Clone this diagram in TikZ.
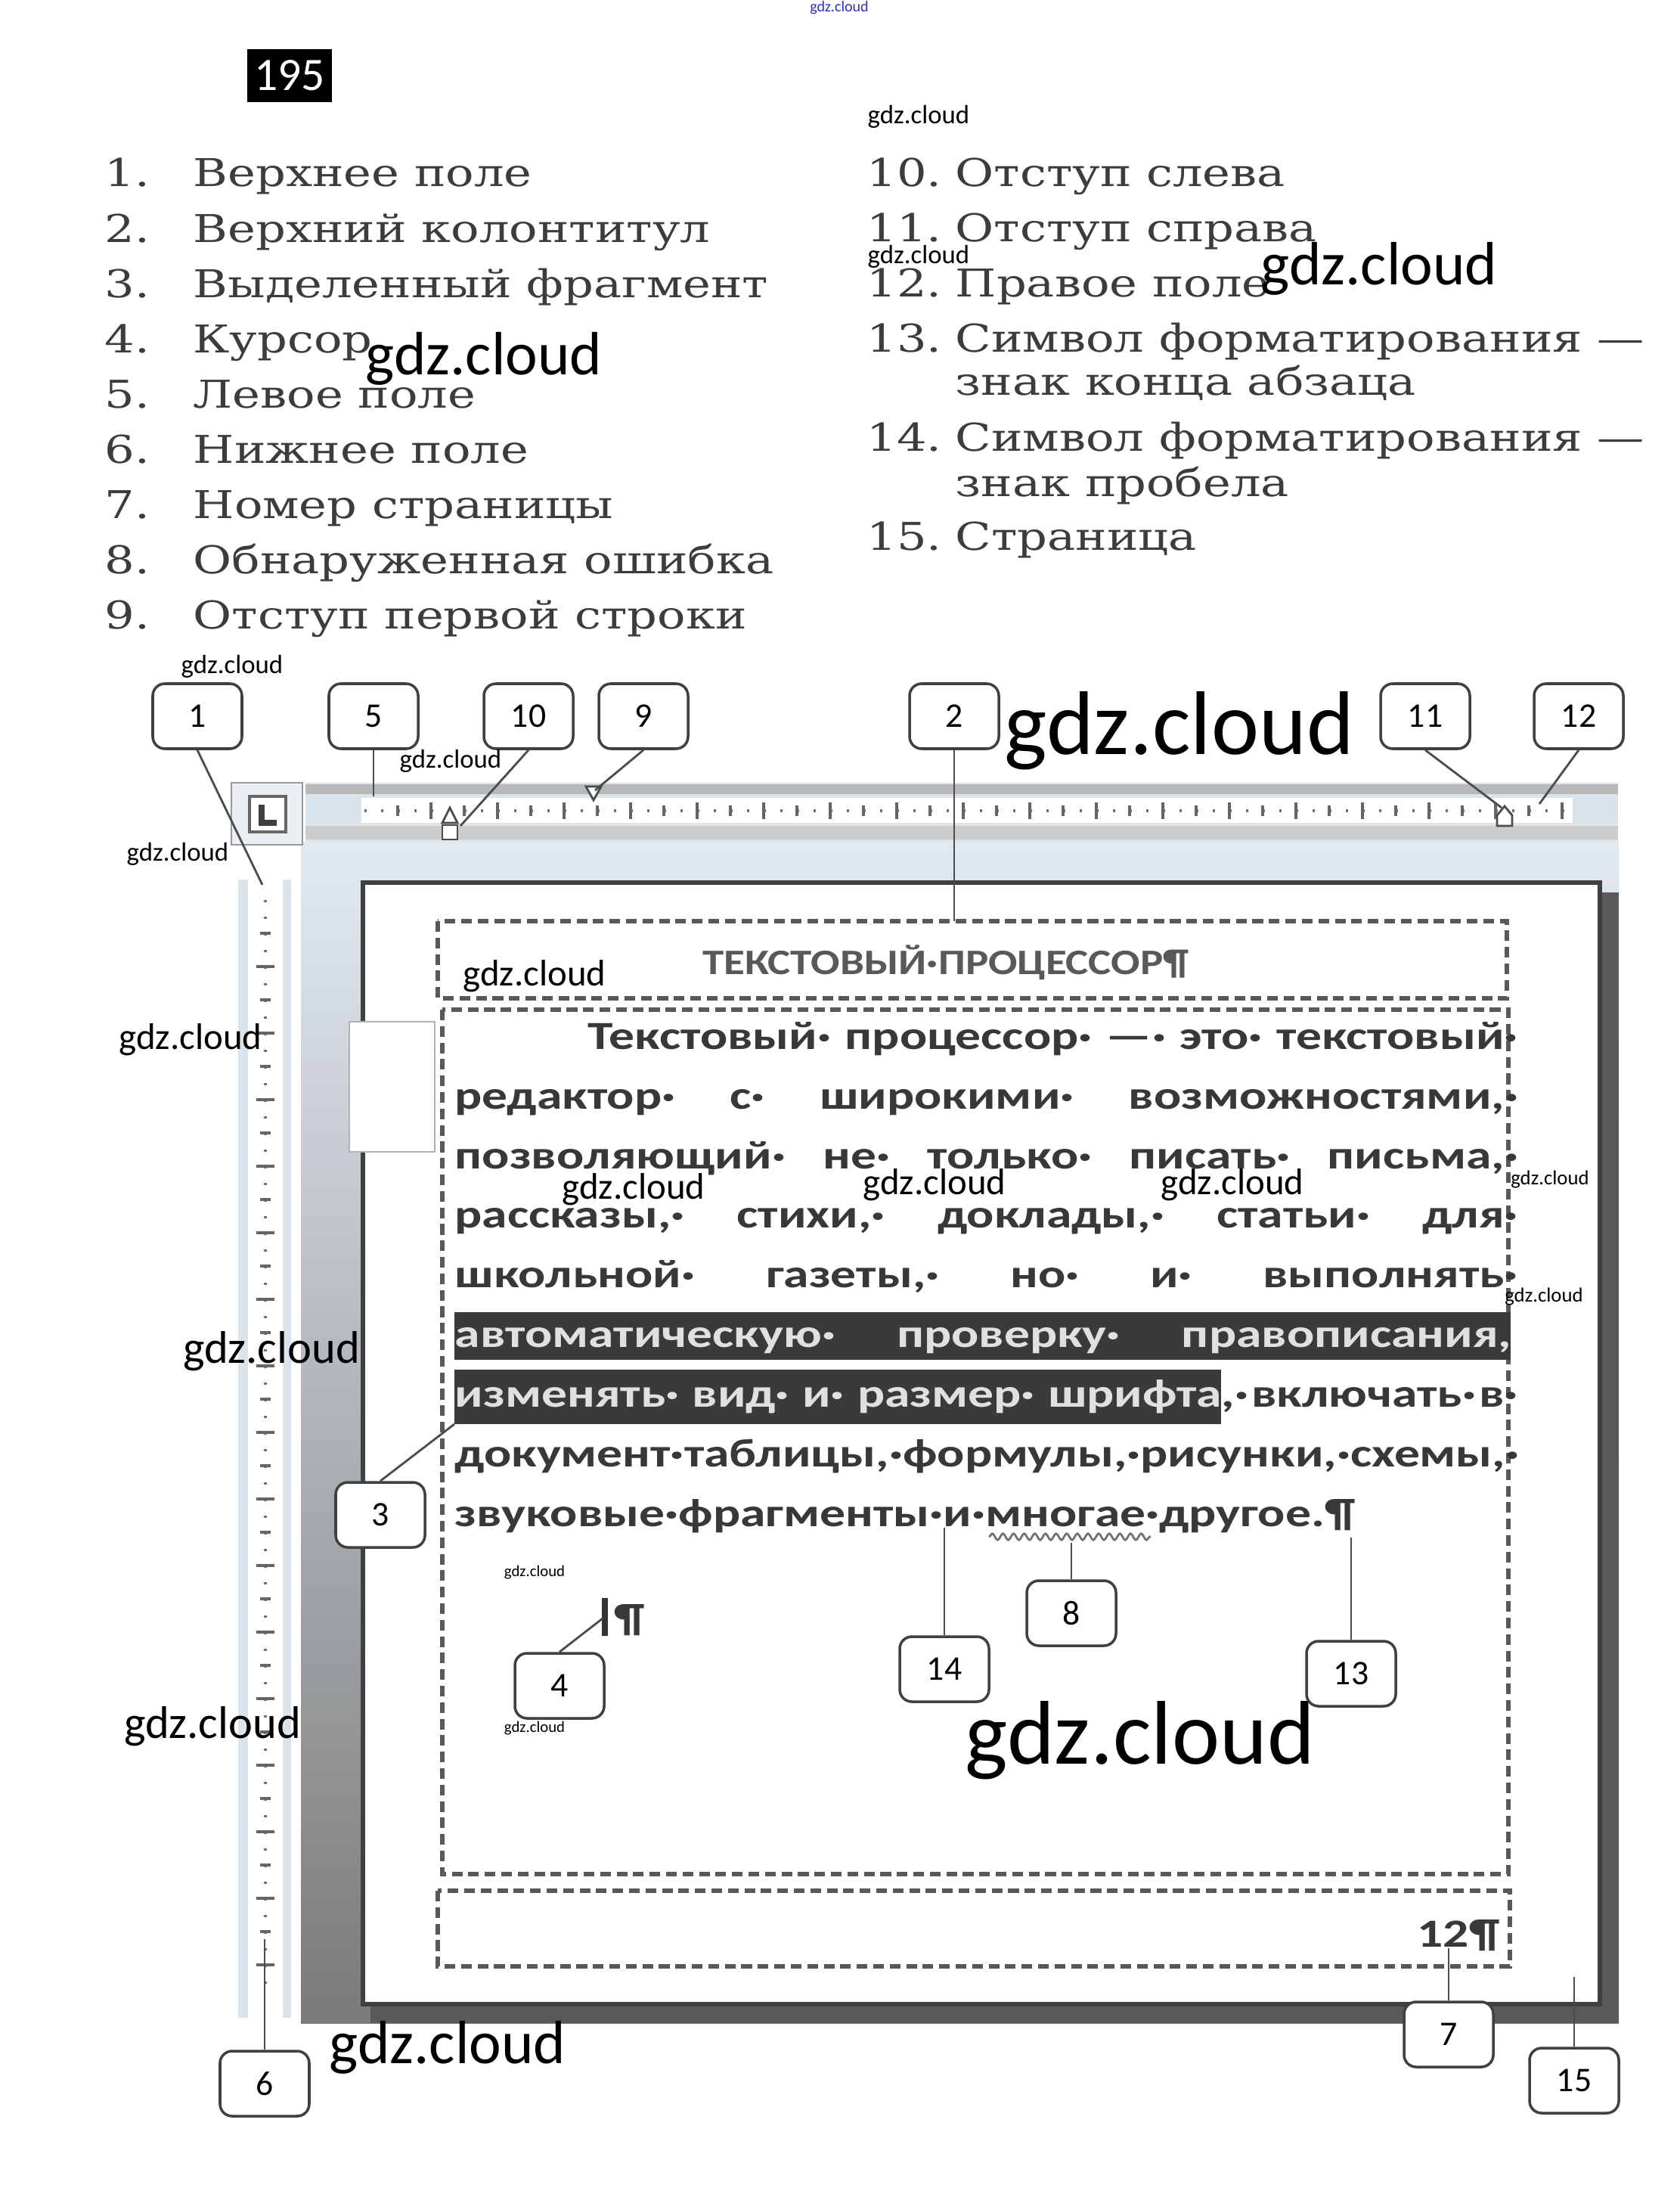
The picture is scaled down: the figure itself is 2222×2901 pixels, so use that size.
\documentclass[tikz,border=0pt]{standalone}
\usepackage{fontspec}
\usepackage{graphicx}
\setmainfont{DejaVu Serif}
\newfontfamily\calfont{Carlito}
\usetikzlibrary{positioning, decorations.pathmorphing}
\newlength\pxu
\setlength\pxu{0.01cm}
\newcommand\setfs[1]{\fontsize{#1}{#1}\selectfont}
% the scanned text is stretched sideways
\newcommand\wide[2][1.28]{\scalebox{#1}[1]{#2}}
\newcommand\jline[2]{\wide{\hbox to \dimexpr#1\pxu*25/32\relax{#2}}}
\definecolor{inkgray}{HTML}{3C3C3C}
\definecolor{rulerblue}{HTML}{DCE4EB}
\definecolor{wsblue}{HTML}{E2EAF1}
\definecolor{wsmid}{HTML}{A9AEB3}
\definecolor{wsgray}{HTML}{7A7A7A}
\definecolor{markgray}{HTML}{3A3A3A}
\definecolor{wmblue}{HTML}{3030C0}

\begin{document}
\begin{tikzpicture}[x=0.01cm, y=-0.01cm,
  callout/.style={draw=black!75, line width=1pt, rounded corners=16\pxu, fill=white,
                  minimum width=118\pxu, minimum height=86\pxu, inner sep=0pt,
                  font=\calfont\setfs{13}},
  lead/.style={draw=black!70, line width=0.8pt},
  margin box/.style={draw=black!65, line width=1.5pt, dash pattern=on 4pt off 2.2pt},
  listitem/.style={anchor=base west, inner sep=0pt, text=inkgray, font=\setfs{14.4}},
  bodyline/.style={anchor=base west, inner sep=0pt, text=black!78,
                   font=\calfont\bfseries\setfs{15}},
  hlline/.style={bodyline, text=white!88!black},
  tick/.style={draw=black!60, line width=1pt},
  marker/.style={fill=white, draw=black!70, line width=0.8pt},
  wm/.style={inner sep=0pt, font=\calfont\setfs{#1}}
]
\useasboundingbox (0,0) rectangle (2222,2901);
\fill[white] (0,0) rectangle (2222,2901);

% exercise number
\node[wm=5.7, text=wmblue] (wmtop) at (1110,10) {gdz.cloud};
\node[fill=black, text=white, font=\calfont\setfs{17.5}, minimum width=112\pxu,
      minimum height=70\pxu, inner sep=0pt] (exno) at (383,100) {195};

% legend
\foreach \n/\t [count=\i from 0] in {1/Верхнее поле, 2/Верхний колонтитул,
    3/Выделенный фрагмент, 4/Курсор, 5/Левое поле, 6/Нижнее поле,
    7/Номер страницы, 8/Обнаруженная ошибка, 9/Отступ первой строки}
{
  \node[listitem] (num\n) at (138,{247+73.1*\i}) {\wide[1.23]{\n.}};
  \node[listitem] (item\n) at (255,{247+73.1*\i}) {\wide[1.23]{\t}};
}
\foreach \n/\t/\yy in {10/Отступ слева/247, 11/Отступ справа/320, 12/Правое поле/393,
    13/Символ форматирования —/466, 14/Символ форматирования —/597, 15/Страница/728}
{
  \node[listitem] (num\n) at (1146,\yy) {\wide[1.23]{\n.}};
  \node[listitem] (item\n) at (1263,\yy) {\wide[1.23]{\t}};
}
\node[listitem] (item13b) at (1263,523) {\wide[1.23]{знак конца абзаца}};
\node[listitem] (item14b) at (1263,657) {\wide[1.23]{знак пробела}};

% workspace and rulers
\shade[top color=wsblue, middle color=wsmid, bottom color=wsgray] (398,1113) rectangle (2141,2675);
\fill[rulerblue] (315,1163) rectangle (385,2668);
\fill[white] (328,1163) rectangle (374,2668);
\fill[rulerblue] (404,1035) rectangle (2140,1113);
\fill[black!28] (404,1037) rectangle (2140,1050);
\fill[black!20] (404,1092) rectangle (2140,1110);
\fill[white] (478,1055) rectangle (2080,1088);
\filldraw[fill=rulerblue!60, draw=black!40] (306,1035) rectangle (400,1117);
\filldraw[fill=white, draw=black!60, line width=1pt] (330,1053) rectangle (378,1100);
\draw[line width=2.5pt, black!75] (346,1064) -- (346,1088) -- (366,1088);

\foreach \tx in {482,504,...,2078} \fill[black!55] (\tx,1070) rectangle +(3,4);
\foreach \tx in {526,614,...,2078} \draw[tick] (\tx,1065) -- (\tx,1079);
\foreach \tx in {570,658,...,2078} \draw[tick] (\tx,1061) -- (\tx,1083);
\foreach \ty in {1190,1212,...,2640} \fill[black!55] (349,\ty) rectangle +(4,3);
\foreach \ty in {1234,1322,...,2640} \draw[tick] (344,\ty) -- (358,\ty);
\foreach \ty in {1278,1366,...,2640} \draw[tick] (339,\ty) -- (363,\ty);

% indent markers
\filldraw[marker] (585,1088) -- (595,1068) -- (605,1088) -- cycle;
\filldraw[marker] (585,1091) rectangle (605,1110);
\filldraw[marker] (775,1040) -- (795,1040) -- (785,1058) -- cycle;
\filldraw[marker] (1980,1092) -- (1980,1078) -- (1990,1066) -- (2000,1078) -- (2000,1092) -- cycle;

% page
\fill[black!65] (490,1180) rectangle (2141,2675);
\filldraw[fill=white, draw=black!75, line width=1.5pt] (480,1167) rectangle (2116,2650);
\filldraw[fill=white, draw=black!30, line width=0.5pt] (462,1351) rectangle (575,1523);

\draw[margin box] (579,1218) rectangle (1993,1320);
\draw[margin box] (585,1335) rectangle (1995,2478);
\draw[margin box] (579,2500) rectangle (1997,2600);

% page text
\node[font=\calfont\bfseries\setfs{13.5}, text=black!65, anchor=base, inner sep=0pt]
  (hdr) at (1251,1288) {\wide[1.2]{ТЕКСТОВЫЙ·ПРОЦЕССОР¶}};

\fill[markgray] (601,1735) rectangle (1998,1798);
\fill[markgray] (601,1811) rectangle (1615,1883);

\node[bodyline] (ln1) at (777,1387) {\jline{1230}{Текстовый·\hfill процессор·\hfill —·\hfill это·\hfill текстовый·}};
\node[bodyline] (ln2) at (601,1466) {\jline{1406}{редактор·\hfill с·\hfill широкими·\hfill возможностями,·}};
\node[bodyline] (ln3) at (601,1545) {\jline{1406}{позволяющий·\hfill не·\hfill только·\hfill писать·\hfill письма,·}};
\node[bodyline] (ln4) at (601,1623) {\jline{1406}{рассказы,·\hfill стихи,·\hfill доклады,·\hfill статьи·\hfill для·}};
\node[bodyline] (ln5) at (601,1702) {\jline{1406}{школьной·\hfill газеты,·\hfill но·\hfill и·\hfill выполнять·}};
\node[hlline] (ln6) at (601,1781) {\jline{1397}{автоматическую·\hfill проверку·\hfill правописания,}};
\node[hlline] (ln7a) at (601,1860) {\jline{1014}{изменять·\hfill вид·\hfill и·\hfill размер·\hfill шрифта}};
\node[bodyline] (ln7b) at (1615,1860) {\jline{392}{,·\hfill включать·\hfill в·}};
\node[bodyline] (ln8) at (601,1939) {\jline{1406}{документ·\hfil таблицы,·\hfil формулы,·\hfil рисунки,·\hfil схемы,·}};
\node[bodyline] (ln9) at (601,2018) {\wide{звуковые·фрагменты·и·многае·другое.¶}};
\draw[decorate, decoration={snake, amplitude=1.2pt, segment length=4pt}, black!55, line width=0.8pt]
  (1308,2032) -- (1522,2032);

\draw[line width=2pt, black!80] (800,2113) -- (800,2163);
\node[bodyline, anchor=base west] (pil) at (812,2157) {\wide{¶}};
\node[bodyline, anchor=base east] (pgno) at (1984,2574) {\wide{12¶}};

% callouts
\node[callout] (b1) at (261,947) {1};
\node[callout] (b5) at (494,947) {5};
\node[callout] (b10) at (699,947) {10};
\node[callout] (b9) at (851,947) {9};
\node[callout] (b2) at (1262,947) {2};
\node[callout] (b11) at (1885,947) {11};
\node[callout] (b12) at (2088,947) {12};
\node[callout] (b3) at (503,2003) {3};
\node[callout] (b4) at (740,2229) {4};
\node[callout] (b8) at (1417,2133) {8};
\node[callout] (b14) at (1249,2207) {14};
\node[callout] (b13) at (1787,2213) {13};
\node[callout] (b6) at (350,2755) {6};
\node[callout] (b7) at (1916,2690) {7};
\node[callout] (b15) at (2082,2751) {15};

\coordinate (t1) at (347,1170);
\coordinate (t5) at (494,1053);
\coordinate (t10) at (609,1092);
\coordinate (t9) at (787,1045);
\coordinate (t2) at (1262,1218);
\coordinate (t11) at (1986,1068);
\coordinate (t12) at (2036,1063);
\coordinate (t3) at (601,1883);
\coordinate (t4) at (797,2140);
\coordinate (t14) at (1249,2020);
\coordinate (t8) at (1417,2040);
\coordinate (t13) at (1787,2033);
\coordinate (t6) at (350,2564);
\coordinate (t7) at (1916,2576);
\coordinate (t15) at (2082,2614);

\foreach \b in {1,5,10,9,2,11,12} \draw[lead] (b\b.south) -- (t\b);
\foreach \b in {3,4,14,8,13,6,7,15} \draw[lead] (b\b.north) -- (t\b);

% watermarks
\foreach \wx/\wy/\ws [count=\wi] in {1215/154/9.9, 1215/339/9.9, 1824/355/23,
    640/474/23, 307/881/9.9, 1560/966/34, 596/1006/9.9, 235/1129/9.9,
    707/1291/13.9, 252/1375/13.9, 838/1573/13.9, 1236/1567/13.9, 1630/1567/13.9,
    2050/1560/7.6, 2042/1715/7.6, 359/1787/17.2, 707/2079/5.9, 707/2285/5.9,
    281/2283/17.2, 1508/2301/34, 592/2707/23}
  \node[wm=\ws] (wm\wi) at (\wx,\wy) {gdz.cloud};

\end{tikzpicture}
\end{document}
